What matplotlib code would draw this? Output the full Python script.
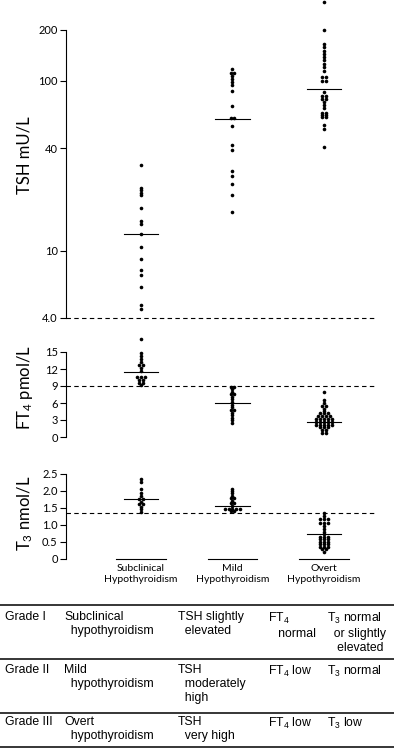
import numpy as np
import matplotlib
matplotlib.use("Agg")
import matplotlib.pyplot as plt
from matplotlib.lines import Line2D

plt.rcParams['font.family'] = ['Lato', 'DejaVu Sans']
plt.rcParams['mathtext.default'] = 'regular'

groups = ['Subclinical\nHypothyroidism', 'Mild\nHypothyroidism', 'Overt\nHypothyroidism']

# TSH mU/L
tsh_sub = [31.8, 23.4, 22.6, 21.9, 21.2, 17.9, 14.9, 14.4, 12.5, 10.5, 8.9, 7.7, 7.2, 6.1, 4.8, 4.5]
tsh_mild = [117, 112, 112, 107, 103, 98, 94, 87, 71.6, 60.6, 60.6, 53.9, 42, 38.9, 29.3, 27.4,
            24.8, 21.2, 16.9]
tsh_overt = [293, 200, 166, 158, 151, 144, 138, 132, 126, 120, 114, 105, 105, 100, 100, 86,
             82, 82, 78, 78, 75, 72, 69, 65, 65, 63, 63, 61, 61, 55, 52, 41]
tsh_med = [12.5, 60, 90]

# FT4 pmol/L
ft4_sub = [17.3, 14.8, 14.3, 13.8, 13.3, 12.7, 12.7, 12.2, 11.7, 10.6, 10.6, 10.6, 10.1, 10.1,
           9.6, 9.6, 9.2]
ft4_mild = [8.9, 8.9, 8.5, 8.0, 7.6, 7.6, 7.1, 6.7, 6.2, 5.7, 5.3, 4.8, 4.8, 4.3, 3.9, 3.4,
            3.0, 2.5]
ft4_overt = [8.0, 6.5, 6.0, 5.5, 5.5, 5.0, 4.6, 4.2, 4.2, 4.2, 3.7, 3.7, 3.7, 3.7, 3.2, 3.2,
             3.2, 3.2, 3.2, 2.7, 2.7, 2.7, 2.7, 2.7, 2.2, 2.2, 2.2, 2.2, 2.2, 1.7, 1.7, 1.7,
             1.2, 1.2, 0.7, 0.7]
ft4_med = [11.4, 6.0, 2.7]

# T3 nmol/L
t3_sub = [2.35, 2.25, 2.05, 1.95, 1.85, 1.75, 1.75, 1.68, 1.6, 1.6, 1.53, 1.46, 1.38]
t3_mild = [2.05, 2.0, 1.93, 1.85, 1.78, 1.78, 1.71, 1.63, 1.63, 1.55, 1.48, 1.48, 1.48, 1.48,
           1.48, 1.41, 1.41]
t3_overt = [1.34, 1.26, 1.16, 1.16, 1.16, 1.06, 1.06, 1.06, 0.96, 0.87, 0.8, 0.73, 0.65, 0.65,
            0.65, 0.57, 0.57, 0.57, 0.5, 0.5, 0.5, 0.42, 0.42, 0.42, 0.35, 0.35, 0.35, 0.28,
            0.28, 0.21]
t3_med = [1.76, 1.57, 0.72]

tsh_limit = 4.0
ft4_limit = 9.0
t3_limit = 1.35

W, H = 394, 749
fig = plt.figure(figsize=(W / 100, H / 100), dpi=100)


def rect(top, bottom):
    # axes box from pixel rows (top, bottom)
    return [66 / W, (H - bottom) / H, 310 / W, (bottom - top) / H]


def dots(ax, x, vals):
    vals = np.array(vals, dtype=float)
    xs = np.full(len(vals), float(x))
    for v in np.unique(vals):
        idx = np.where(vals == v)[0]
        k = len(idx)
        xs[idx] = x + (np.arange(k) - (k - 1) / 2) * 0.042
    ax.plot(xs, vals, 'o', color='black', ms=2.6, mew=0, clip_on=False)


def style(ax, lo, hi):
    for s in ['top', 'right', 'bottom']:
        ax.spines[s].set_visible(False)
    ax.spines['left'].set_bounds(lo, hi)
    ax.spines['left'].set_linewidth(0.8)
    ax.tick_params(axis='y', direction='out', length=4, width=0.8, labelsize=8, pad=2)
    ax.set_xticks([])
    ax.set_xlim(0.18, 3.57)


def panel(ax, data, med, limit):
    for i, d in enumerate(data):
        dots(ax, i + 1, d)
        ax.plot([i + 1 - 0.19, i + 1 + 0.19], [med[i], med[i]], color='black', lw=0.8)
    ax.axhline(limit, color='black', lw=0.8, ls=(0, (4, 3)), clip_on=False)


ax1 = fig.add_axes(rect(0, 318))
ax1.set_yscale('log')
ax1.set_ylim(4, 300)
panel(ax1, [tsh_sub, tsh_mild, tsh_overt], tsh_med, tsh_limit)
style(ax1, 4, 200)
ax1.set_yticks([4, 10, 40, 100, 200])
ax1.set_yticklabels(['4.0', '10', '40', '100', '200'])
ax1.yaxis.set_minor_locator(matplotlib.ticker.NullLocator())

ax2 = fig.add_axes(rect(335, 437))
ax2.set_ylim(0, 18)
panel(ax2, [ft4_sub, ft4_mild, ft4_overt], ft4_med, ft4_limit)
style(ax2, 0, 15)
ax2.set_yticks([0, 3, 6, 9, 12, 15])

ax3 = fig.add_axes(rect(470.6, 558.7))
ax3.set_ylim(0, 2.6)
panel(ax3, [t3_sub, t3_mild, t3_overt], t3_med, t3_limit)
style(ax3, 0, 2.5)
ax3.set_yticks([0, 0.5, 1.0, 1.5, 2.0, 2.5])
ax3.set_yticklabels(['0', '0.5', '1.0', '1.5', '2.0', '2.5'])
for i, g in enumerate(groups):
    ax3.plot([i + 1 - 0.27, i + 1 + 0.27], [0, 0], color='black', lw=0.8, clip_on=False)
    ax3.text(i + 1, -0.17, g, ha='center', va='top', fontsize=7.5, linespacing=1.25)

fig.text(25 / W, 1 - 155 / H, 'TSH mU/L', rotation=90, ha='center', va='center', fontsize=12)
fig.text(25 / W, 1 - 388 / H, 'FT$_4$ pmol/L', rotation=90, ha='center', va='center', fontsize=12)
fig.text(25 / W, 1 - 513 / H, 'T$_3$ nmol/L', rotation=90, ha='center', va='center', fontsize=12)

# grading table
rows = [
    ['Grade I', 'Subclinical\n  hypothyroidism', 'TSH slightly\n  elevated', 'FT$_4$\n   normal',
     'T$_3$ normal\n  or slightly\n   elevated'],
    ['Grade II', 'Mild\n  hypothyroidism', 'TSH\n  moderately\n  high', 'FT$_4$ low', 'T$_3$ normal'],
    ['Grade III', 'Overt\n  hypothyroidism', 'TSH\n  very high', 'FT$_4$ low', 'T$_3$ low'],
]
col_x = [5, 64, 178, 268, 327]
row_top = [611, 664, 716]
rule_y = [605, 659, 713, 747]

for y in rule_y:
    fig.add_artist(Line2D([0, 1], [1 - y / H, 1 - y / H], color='black', lw=1.1))
for r, row in enumerate(rows):
    for c, txt in enumerate(row):
        fig.text(col_x[c] / W, 1 - row_top[r] / H, txt, ha='left', va='top', fontsize=8.8,
                 family=['Liberation Sans', 'DejaVu Sans'], linespacing=1.2)

fig.savefig('out.png', dpi=100)
